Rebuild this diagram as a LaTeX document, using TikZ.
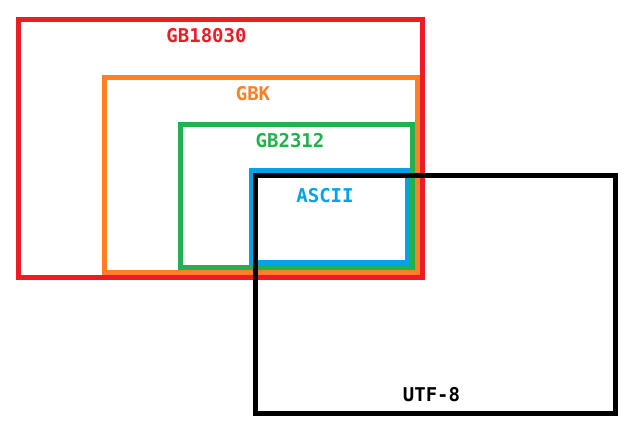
\documentclass[tikz,border=0pt]{standalone}
\usepackage{fontspec}
\setmonofont{DejaVu Sans Mono}
\definecolor{cred}{HTML}{ED1C24}
\definecolor{corange}{HTML}{FF7F27}
\definecolor{cgreen}{HTML}{22B14C}
\definecolor{cblue}{HTML}{00A2E8}
\begin{document}
\begin{tikzpicture}
[x=1pt,y=-1pt]
\tikzset{box/.style={draw,line width=5pt}}
\tikzset{lbl/.style={font=\ttfamily\bfseries\fontsize{19}{19}\selectfont,inner sep=0pt}}
\useasboundingbox (0,0) rectangle (634,435);
\draw [box,cred] (18.5,20) rectangle (422,277.5);
\draw [box,corange] (104.5,77.5) rectangle (417,272.5);
\draw [box,cgreen] (180.5,124.5) rectangle (412.5,267.5);
\draw [box,cblue] (251.5,170.5) rectangle (407.5,262.5);
\draw [box,black] (255.5,175.5) rectangle (615.5,413.5);

\node [lbl,text=cred] (l1) at (206.5,36) {GB18030};
\node [lbl,text=corange] (l2) at (253,94) {GBK};
\node [lbl,text=cgreen] (l3) at (290,141) {GB2312};
\node [lbl,text=cblue] (l4) at (325,196) {ASCII};
\node [lbl,text=black] (l5) at (431.5,395) {UTF-8};
\end{tikzpicture}
\end{document}
